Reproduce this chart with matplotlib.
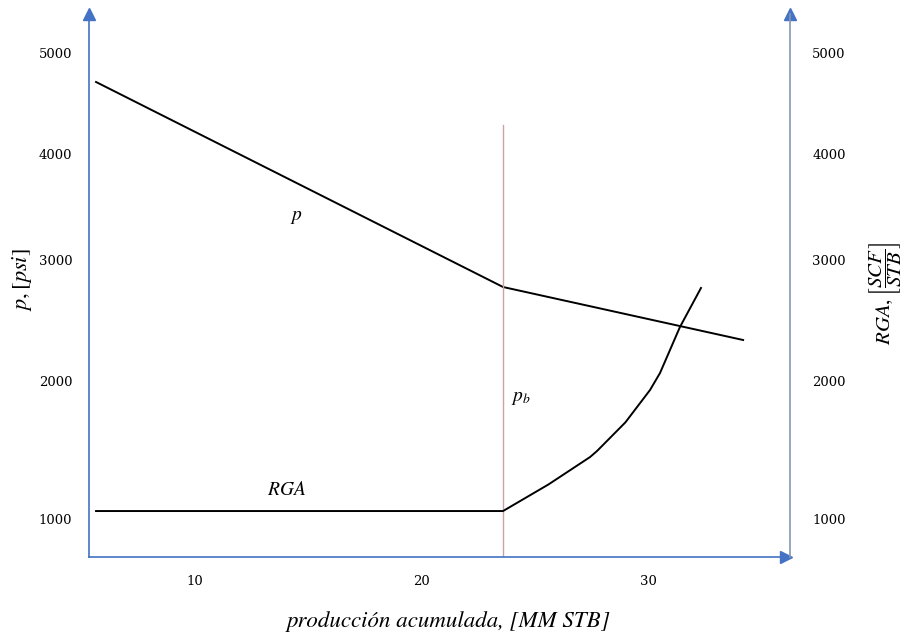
import numpy as np
import matplotlib
matplotlib.use('Agg')
import matplotlib.pyplot as plt

plt.rcParams['mathtext.fontset'] = 'stix'

# produccion acumulada [MM STB]
np_acum = [5.63, 23.6, 34.2]
presion = [4713, 2777, 2339]

rga_x = [5.63, 23.6, 25.6, 27.44, 27.75, 29.0, 30.09, 30.53, 31.41, 32.34]
rga_y = [1058, 1058, 1250, 1449, 1493, 1700, 1935, 2066, 2446, 2769]

pb_x = 23.6
pb_top = 4287

x_ticks = [10, 20, 30]
y_ticks = [1000, 2000, 3000, 4000, 5000]

# the y axis is not evenly spaced: tick value -> vertical position
knot_vals = np.array([0, 1000, 2000, 3000, 4000, 5000, 6000], dtype=float)
knot_pos = np.array([-19, 119, 257, 378, 484, 585, 686], dtype=float)


def fwd(v):
    return np.interp(v, knot_vals, knot_pos)


def inv(p):
    return np.interp(p, knot_pos, knot_vals)


azul = '#4472c4'
gris = '#8497b0'
tick_font = dict(family='DejaVu Serif', size=9.5)

fig = plt.figure(figsize=(9.09, 6.38), dpi=100)
ax = fig.add_axes([89 / 909, 81 / 638, 701 / 909, 543 / 638])
ax2 = ax.twinx()

for a in (ax, ax2):
    a.set_yscale('function', functions=(fwd, inv))
    a.set_ylim(725, 5386)
    a.set_yticks(y_ticks)
    a.set_yticklabels([str(t) for t in y_ticks], fontdict=tick_font)
    a.tick_params(axis='y', length=0)
    for s in a.spines.values():
        s.set_visible(False)

ax.set_xlim(5.32, 36.27)
ax.set_xticks(x_ticks)
ax.set_xticklabels([str(t) for t in x_ticks], fontdict=tick_font)
ax.tick_params(axis='x', length=0, pad=13)
ax.tick_params(axis='y', pad=12)
ax2.tick_params(axis='y', pad=16)

ax.spines['left'].set_visible(True)
ax.spines['left'].set_color(azul)
ax.spines['bottom'].set_visible(True)
ax.spines['bottom'].set_color(azul)
ax2.spines['right'].set_visible(True)
ax2.spines['right'].set_color(gris)
for s in (ax.spines['left'], ax.spines['bottom'], ax2.spines['right']):
    s.set_linewidth(1.2)

# arrow heads
ax.plot([0], [1], marker='^', ms=8, color=azul, transform=ax.transAxes, clip_on=False)
ax.plot([0.995], [0], marker='>', ms=8, color=azul, transform=ax.transAxes, clip_on=False)
ax2.plot([1], [1], marker='^', ms=8, color=azul, transform=ax2.transAxes, clip_on=False)

ax.plot(np_acum, presion, color='black', lw=1.4)
ax2.plot(rga_x, rga_y, color='black', lw=1.4)
ax.plot([pb_x, pb_x], [725, pb_top], color='#c9a3a8', lw=1.0)

ax.text(14.46, 3415, r'$p$', fontsize=14, ha='center', va='center')
ax.text(24.4, 1884, r'$p_b$', fontsize=14, ha='center', va='center')
ax.text(14.06, 1217, r'$RGA$', fontsize=14, ha='center', va='center')

ax.set_xlabel('producción acumulada, [MM STB]', family='STIXGeneral', style='italic',
              fontsize=16.5, ha='center', va='center')
ax.xaxis.set_label_coords(0.513, -0.1197)
ax.set_ylabel(r'$p,[psi]$', fontsize=16, ha='center', va='center')
ax.yaxis.set_label_coords(-0.0956, 0.51)
ax2.set_ylabel(r'$RGA,\left[\dfrac{SCF}{STB}\right]$', fontsize=15, ha='center', va='center')
ax2.yaxis.set_label_coords(1.137, 0.486)

fig.savefig('out.png', dpi=100)
